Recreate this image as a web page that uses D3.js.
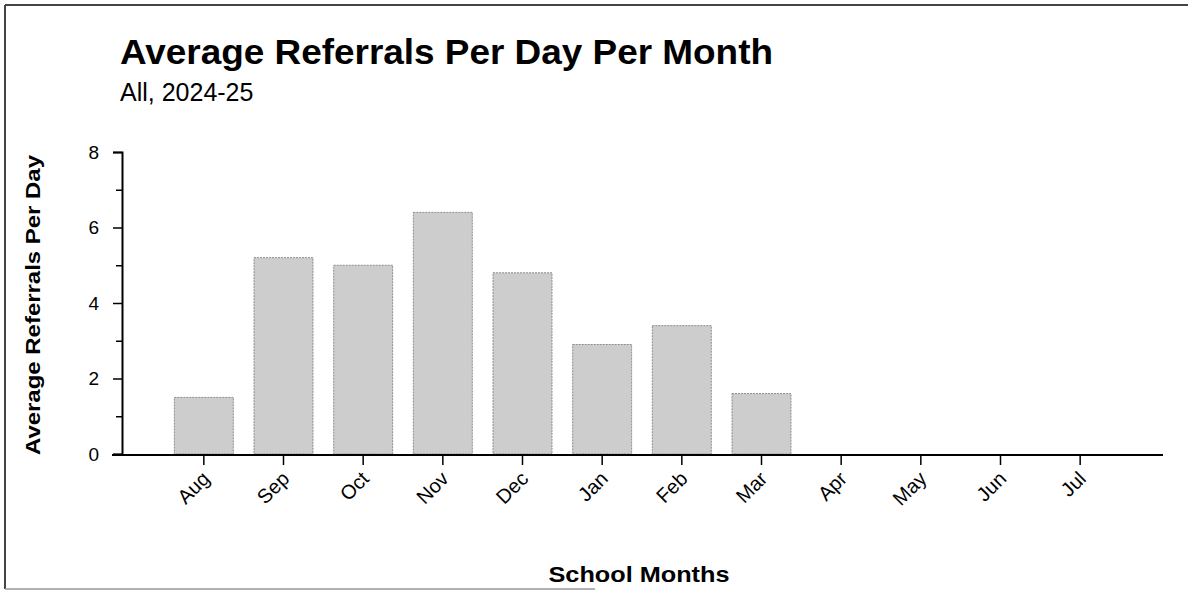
<!DOCTYPE html>
<html>
<head>
<meta charset="utf-8">
<script src="https://cdn.jsdelivr.net/npm/d3@7"></script>
<style>
  html, body { margin: 0; padding: 0; background: #fff; }
  svg { display: block; font-family: "Liberation Sans", Arial, sans-serif; }
</style>
</head>
<body>
<svg id="chart" width="1188" height="591"></svg>
<script>
const months = ["Aug","Sep","Oct","Nov","Dec","Jan","Feb","Mar","Apr","May","Jun","Jul"];
const avgReferrals = [1.5, 5.2, 5.0, 6.4, 4.8, 2.9, 3.4, 1.6, 0, 0, 0, 0];
const yMajorTicks = [0, 2, 4, 6, 8];
const yMinorTicks = [1, 3, 5, 7];
const titleText = "Average Referrals Per Day Per Month";
const subtitleText = "All, 2024-25";
const yAxisTitle = "Average Referrals Per Day";
const xAxisTitle = "School Months";

const svg = d3.select("#chart");
const W = 1188, H = 591;
const plot = { left: 122, right: 1163, top: 152, bottom: 454 };

// frame (scanned page border)
svg.append("line").attr("x1", 5).attr("x2", W).attr("y1", 5).attr("y2", 5)
  .attr("stroke", "#444").attr("stroke-width", 2);
svg.append("line").attr("x1", 5).attr("x2", 5).attr("y1", 5).attr("y2", 589)
  .attr("stroke", "#444").attr("stroke-width", 2);
svg.append("line").attr("x1", 5).attr("x2", 595).attr("y1", 589).attr("y2", 589)
  .attr("stroke", "#999").attr("stroke-width", 1.5);

// titles
svg.append("text").attr("x", 120).attr("y", 64)
  .attr("font-size", 35).attr("font-weight", "bold").attr("fill", "#000")
  .attr("textLength", 653).attr("lengthAdjust", "spacingAndGlyphs")
  .text(titleText);
svg.append("text").attr("x", 120).attr("y", 101)
  .attr("font-size", 25).attr("fill", "#000")
  .text(subtitleText);

const y = d3.scaleLinear().domain([0, 8]).range([plot.bottom, plot.top]);
const x = d3.scaleBand().domain(months).range([164, 1120])
  .paddingInner(0.26).paddingOuter(0.13);

// bars
svg.append("g").selectAll("rect")
  .data(months.map((m, i) => ({ m, v: avgReferrals[i] })).filter(d => d.v > 0))
  .join("rect")
  .attr("x", d => x(d.m))
  .attr("y", d => y(d.v))
  .attr("width", x.bandwidth())
  .attr("height", d => y(0) - y(d.v))
  .attr("fill", "#cdcdcd")
  .attr("stroke", "#8c8c8c")
  .attr("stroke-width", 1)
  .attr("stroke-dasharray", "2,1");

// y axis major
const yAxis = svg.append("g").attr("transform", `translate(${plot.left},0)`)
  .call(d3.axisLeft(y).tickValues(yMajorTicks).tickSize(9).tickPadding(14).tickFormat(d3.format("d")));
yAxis.select(".domain").attr("stroke", "#000").attr("stroke-width", 2);
yAxis.selectAll(".tick line").attr("stroke", "#000").attr("stroke-width", 1.5);
yAxis.selectAll(".tick text").attr("font-size", 19).attr("fill", "#000")
  .attr("font-family", "Liberation Sans, Arial, sans-serif");

// y axis minor
const yMinor = svg.append("g").attr("transform", `translate(${plot.left},0)`)
  .call(d3.axisLeft(y).tickValues(yMinorTicks).tickSize(6).tickFormat(""));
yMinor.select(".domain").remove();
yMinor.selectAll(".tick line").attr("stroke", "#000").attr("stroke-width", 1.5);

// x axis
svg.append("line").attr("x1", plot.left - 10).attr("x2", plot.right)
  .attr("y1", plot.bottom + 1).attr("y2", plot.bottom + 1)
  .attr("stroke", "#000").attr("stroke-width", 2);
const xAxis = svg.append("g").attr("transform", `translate(0,${plot.bottom + 1})`)
  .call(d3.axisBottom(x).tickSize(10).tickSizeOuter(0));
xAxis.select(".domain").remove();
xAxis.selectAll(".tick line").attr("stroke", "#000").attr("stroke-width", 1.5);
xAxis.selectAll(".tick text")
  .attr("font-size", 20).attr("fill", "#000")
  .attr("font-family", "Liberation Sans, Arial, sans-serif")
  .attr("text-anchor", "end")
  .attr("y", 0)
  .attr("dy", "0")
  .attr("transform", "translate(7,25) rotate(-45)");

// axis titles
svg.append("text")
  .attr("transform", `translate(40,${(plot.top + plot.bottom) / 2 + 2}) rotate(-90)`)
  .attr("text-anchor", "middle")
  .attr("font-size", 21).attr("font-weight", "bold").attr("fill", "#000")
  .attr("textLength", 300).attr("lengthAdjust", "spacingAndGlyphs")
  .text(yAxisTitle);
svg.append("text")
  .attr("x", 639).attr("y", 582)
  .attr("text-anchor", "middle")
  .attr("font-size", 22).attr("font-weight", "bold").attr("fill", "#000")
  .attr("textLength", 181).attr("lengthAdjust", "spacingAndGlyphs")
  .text(xAxisTitle);
</script>
</body>
</html>
